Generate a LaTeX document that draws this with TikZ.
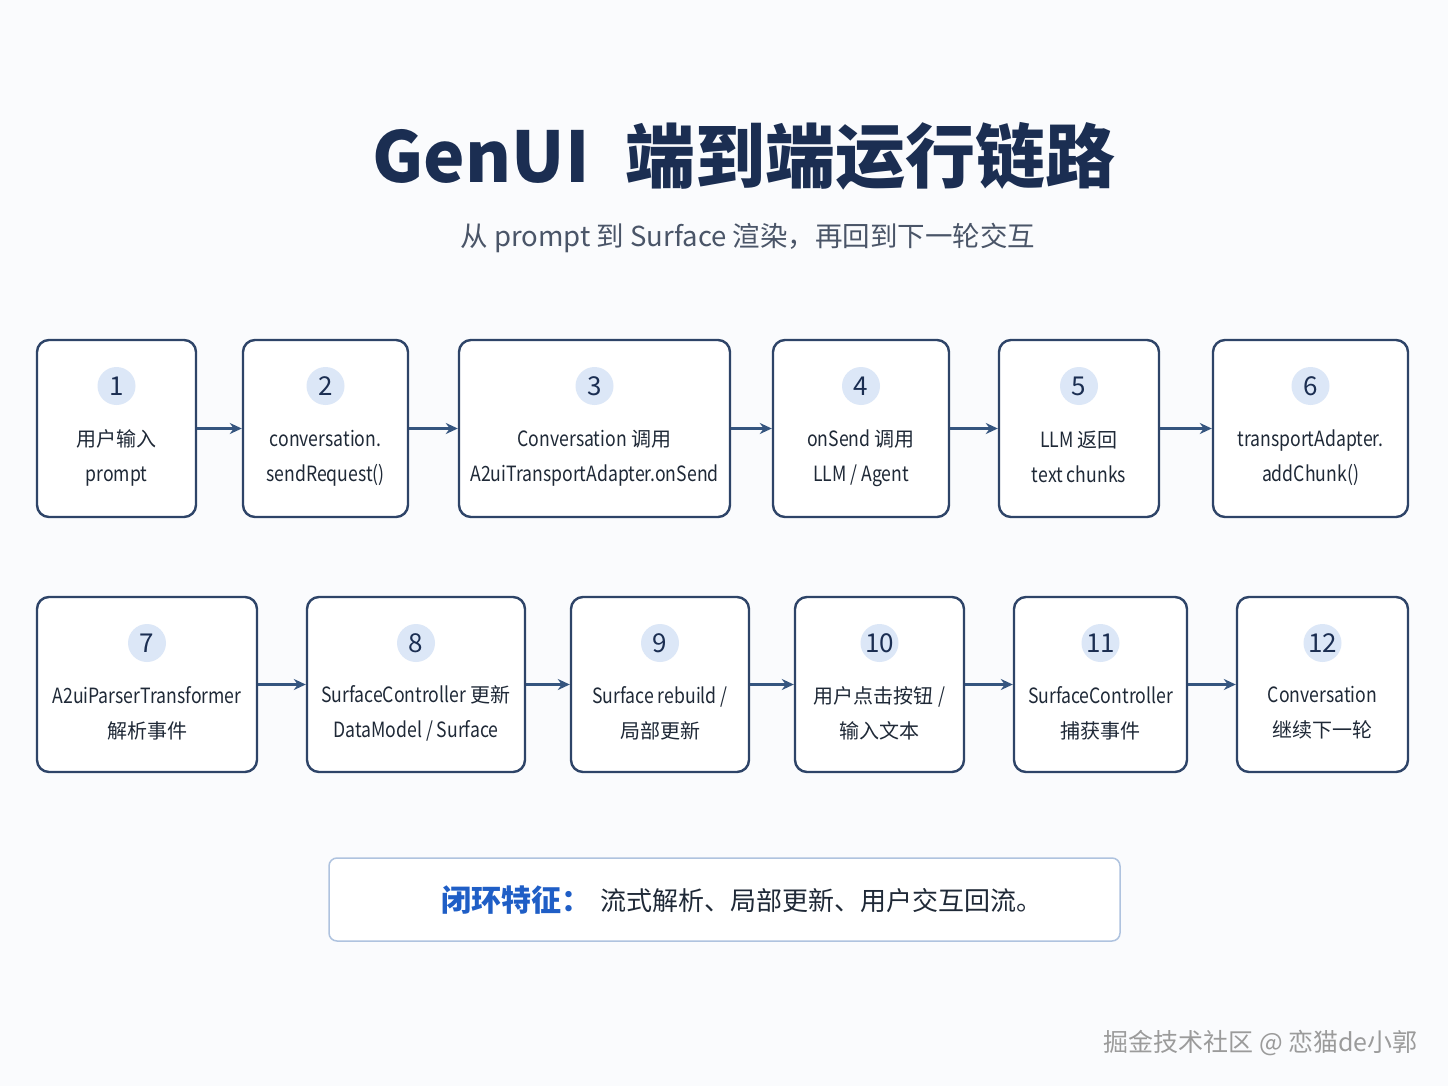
\documentclass[tikz,border=0pt]{standalone}
\usepackage{fontspec}
\setmainfont{Noto Sans CJK SC}
\newfontfamily\latf{Noto Sans CJK SC}[FakeStretch=0.84]
\usetikzlibrary{arrows.meta}
\definecolor{bgc}{HTML}{FAFBFD}
\definecolor{navy}{HTML}{1B2E52}
\definecolor{boxline}{HTML}{2E4468}
\definecolor{txt}{HTML}{1F2937}
\definecolor{subc}{HTML}{4A5568}
\definecolor{circf}{HTML}{DCE7F7}
\definecolor{arrc}{HTML}{35557F}
\definecolor{noteline}{HTML}{AFC3DF}
\definecolor{noteblue}{HTML}{1F5EC6}
\definecolor{wm}{HTML}{9B9B9B}
\newcommand{\LT}[1]{{\latf\fontsize{21}{35}\selectfont #1}}
\tikzset{
  stepbox/.style={draw=boxline, line width=2.4pt, rounded corners=12pt, fill=white, inner sep=0pt},
  numc/.style={circle, fill=circf, minimum size=38pt, inner sep=0pt, text=navy, font=\fontsize{26}{30}\selectfont},
  lbl/.style={align=center, text=txt, font=\fontsize{20}{35}\selectfont, inner sep=0pt},
  arr/.style={draw=arrc, line width=2.2pt, -{Stealth[length=12pt,width=11pt]}},
}
\begin{document}
\begin{tikzpicture}[x=1pt,y=-1pt]
\useasboundingbox[fill=bgc] (0,0) rectangle (1448,1086);
% title
\node[text=navy, font=\fontsize{70}{80}\selectfont\bfseries, inner sep=0pt] (title) at (744,156) {GenUI\hspace{36pt}端到端运行链路};
\node[text=subc, font=\fontsize{27.5}{32}\selectfont, inner sep=0pt] (sub) at (748,238) {从 prompt 到 Surface 渲染，再回到下一轮交互};
% row 1
\node[stepbox, minimum width=159pt, minimum height=177pt] (b1) at (116.5,428.5) {};
\node[stepbox, minimum width=165pt, minimum height=177pt] (b2) at (325.5,428.5) {};
\node[stepbox, minimum width=271pt, minimum height=177pt] (b3) at (594.5,428.5) {};
\node[stepbox, minimum width=176pt, minimum height=177pt] (b4) at (861,428.5) {};
\node[stepbox, minimum width=160pt, minimum height=177pt] (b5) at (1079,428.5) {};
\node[stepbox, minimum width=195pt, minimum height=177pt] (b6) at (1310.5,428.5) {};
% row 2
\node[stepbox, minimum width=220pt, minimum height=175pt] (b7) at (147,684.5) {};
\node[stepbox, minimum width=218pt, minimum height=175pt] (b8) at (416,684.5) {};
\node[stepbox, minimum width=178pt, minimum height=175pt] (b9) at (660,684.5) {};
\node[stepbox, minimum width=169pt, minimum height=175pt] (b10) at (879.5,684.5) {};
\node[stepbox, minimum width=173pt, minimum height=175pt] (b11) at (1100.5,684.5) {};
\node[stepbox, minimum width=171pt, minimum height=175pt] (b12) at (1322.5,684.5) {};
% numbers
\node[numc] (n1) at (116.5,386) {1};
\node[numc] (n2) at (325.5,386) {2};
\node[numc] (n3) at (594.5,386) {3};
\node[numc] (n4) at (861,386) {4};
\node[numc] (n5) at (1079,386) {5};
\node[numc] (n6) at (1310.5,386) {6};
\node[numc] (n7) at (147,643) {7};
\node[numc] (n8) at (416,643) {8};
\node[numc] (n9) at (660,643) {9};
\node[numc] (n10) at (879.5,643) {10};
\node[numc] (n11) at (1100.5,643) {11};
\node[numc] (n12) at (1322.5,643) {12};
% labels
\node[lbl] (t1) at (116.5,458) {用户输入\\\LT{prompt}};
\node[lbl] (t2) at (325.5,458) {\LT{conversation.}\\\LT{sendRequest()}};
\node[lbl] (t3) at (594.5,458) {\LT{Conversation} 调用\\\LT{A2uiTransportAdapter.onSend}};
\node[lbl] (t4) at (861,458) {\LT{onSend} 调用\\\LT{LLM / Agent}};
\node[lbl] (t5) at (1079,456.5) {\LT{LLM} 返回\\\LT{text chunks}};
\node[lbl] (t6) at (1310.5,458) {\LT{transportAdapter.}\\\LT{addChunk()}};
\node[lbl] (t7) at (147,713) {\LT{A2uiParserTransformer}\\解析事件};
\node[lbl] (t8) at (416,713) {\LT{SurfaceController} 更新\\\LT{DataModel / Surface}};
\node[lbl] (t9) at (660,713) {\LT{Surface rebuild /}\\局部更新};
\node[lbl] (t10) at (879.5,713) {用户点击按钮 \LT{/}\\输入文本};
\node[lbl] (t11) at (1100.5,713) {\LT{SurfaceController}\\捕获事件};
\node[lbl] (t12) at (1322.5,713) {\LT{Conversation}\\继续下一轮};
% arrows
\draw[arr] (b1.east) -- (b2.west);
\draw[arr] (b2.east) -- (b3.west);
\draw[arr] (b3.east) -- (b4.west);
\draw[arr] (b4.east) -- (b5.west);
\draw[arr] (b5.east) -- (b6.west);
\draw[arr] (b7.east) -- (b8.west);
\draw[arr] (b8.east) -- (b9.west);
\draw[arr] (b9.east) -- (b10.west);
\draw[arr] (b10.east) -- (b11.west);
\draw[arr] (b11.east) -- (b12.west);
% note box
\node[draw=noteline, line width=1.5pt, rounded corners=8pt, fill=white, minimum width=791pt, minimum height=83pt, inner sep=0pt] (note) at (724.5,899.5) {};
\node[inner sep=0pt, anchor=west, text=noteblue, font=\fontsize{30}{36}\selectfont\bfseries] (nk) at (441,900) {闭环特征：};
\node[inner sep=0pt, anchor=west, text=txt, font=\fontsize{26}{32}\selectfont] (nv) at (600,901) {流式解析、局部更新、用户交互回流。};
% watermark
\node[inner sep=0pt, anchor=east, text=wm, font=\fontsize{25}{28}\selectfont] (wmk) at (1418,1043) {掘金技术社区 @ 恋猫de小郭};
\end{tikzpicture}
\end{document}
